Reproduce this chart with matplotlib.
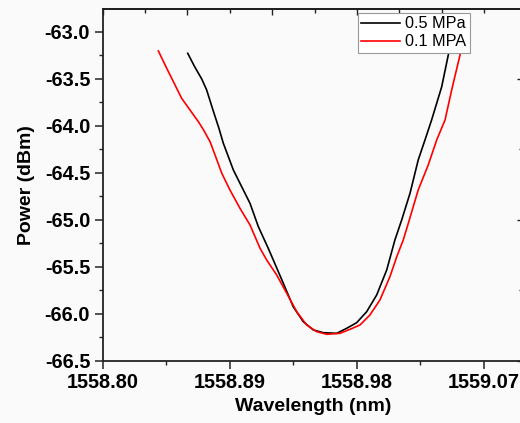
import numpy as np
import matplotlib
matplotlib.use("Agg")
import matplotlib.pyplot as plt
from matplotlib.ticker import MultipleLocator, FixedLocator, FormatStrFormatter

plt.rcParams['font.family'] = ['Liberation Sans', 'DejaVu Sans']
plt.rcParams['axes.unicode_minus'] = False

# Data
wl_05 = [1558.8602, 1558.8650, 1558.8701, 1558.8736, 1558.8780, 1558.8823, 1558.8854, 1558.8925, 1558.8984,
         1558.9043, 1558.9102, 1558.9172, 1558.9208, 1558.9279, 1558.9349, 1558.9420,
         1558.9491, 1558.9562, 1558.9657, 1558.9728, 1558.9798, 1558.9869, 1558.9940,
         1559.0011, 1559.0069, 1559.0117, 1559.0176, 1559.0234, 1559.0282, 1559.0329,
         1559.0400, 1559.0447, 1559.0480]
pw_05 = [-63.230, -63.370, -63.503, -63.620, -63.830, -64.028, -64.187, -64.471, -64.649,
         -64.826, -65.074, -65.304, -65.429, -65.677, -65.926, -66.085,
         -66.173, -66.202, -66.209, -66.155, -66.096, -65.979, -65.801,
         -65.535, -65.216, -65.003, -64.719, -64.365, -64.152, -63.939,
         -63.588, -63.248, -63.050]

wl_01 = [1558.8394, 1558.8453, 1558.8512, 1558.8559, 1558.8618, 1558.8677, 1558.8712,
         1558.8760, 1558.8800, 1558.8843, 1558.8901, 1558.8972, 1558.9043, 1558.9114,
         1558.9161, 1558.9232, 1558.9303, 1558.9374, 1558.9444, 1558.9515, 1558.9586,
         1558.9680, 1558.9751, 1558.9822, 1558.9892, 1558.9963, 1559.0034, 1559.0082,
         1559.0128, 1559.0164, 1559.0234, 1559.0305, 1559.0365, 1559.0424, 1559.0471,
         1559.0530, 1559.0560]
pw_01 = [-63.205, -63.389, -63.567, -63.709, -63.833, -63.957, -64.040,
         -64.170, -64.330, -64.506, -64.684, -64.879, -65.056, -65.304,
         -65.429, -65.588, -65.783, -65.979, -66.120, -66.191, -66.219,
         -66.209, -66.166, -66.120, -66.014, -65.854, -65.606, -65.394,
         -65.216, -65.038, -64.684, -64.418, -64.152, -63.939, -63.620,
         -63.248, -63.050]

labels = ['0.5 MPa', '0.1 MPA']
x_ticks = [1558.80, 1558.89, 1558.98, 1559.07]
y_ticks = [-66.5, -66.0, -65.5, -65.0, -64.5, -64.0, -63.5, -63.0]

W, H = 520, 423
fig = plt.figure(figsize=(W / 100, H / 100), dpi=100, facecolor='#fafafa')
left_px, right_px, bot_px, top_px = 102.7, 523.0, 360.7, 9.0
ax = fig.add_axes([left_px / W, 1 - bot_px / H, (right_px - left_px) / W, (bot_px - top_px) / H])
ax.set_facecolor('#fafafa')

ax.plot(wl_05, pw_05, color='black', lw=1.2, label=labels[0])
ax.plot(wl_01, pw_01, color='#ff0000', lw=1.2, label=labels[1])

ax.set_xlim(1558.80, 1559.0976)
ax.set_ylim(-66.5, -62.759)

ax.xaxis.set_major_locator(FixedLocator(x_ticks))
ax.xaxis.set_minor_locator(MultipleLocator(0.045))
ax.yaxis.set_major_locator(FixedLocator(y_ticks))
ax.yaxis.set_minor_locator(MultipleLocator(0.25))
ax.xaxis.set_major_formatter(FormatStrFormatter('%.2f'))
ax.yaxis.set_major_formatter(FormatStrFormatter('%.1f'))

for sp in ax.spines.values():
    sp.set_linewidth(1.3)
    sp.set_color('#222222')

ax.tick_params(axis='both', which='major', direction='out', length=5.5, width=1.1,
               labelsize=14.3, pad=3.5, colors='#222222')
ax.tick_params(axis='both', which='minor', direction='out', length=3.2, width=1.0, colors='#222222')
ax.tick_params(top=False, right=False, which='both')
for lab in ax.get_xticklabels() + ax.get_yticklabels():
    lab.set_fontweight('bold')
    lab.set_color('black')

# top and right axes with inward ticks
secx = ax.secondary_xaxis('top')
secx.xaxis.set_major_locator(MultipleLocator(0.06))
secx.xaxis.set_minor_locator(FixedLocator([1558.83, 1558.89, 1558.95, 1559.01, 1559.07]))
secx.tick_params(which='major', direction='in', length=4.3, width=1.0, labeltop=False, colors='#222222')
secx.tick_params(which='minor', direction='in', length=2.7, width=1.0, colors='#222222')
secx.spines['top'].set_linewidth(1.3)

secy = ax.secondary_yaxis('right')
secy.yaxis.set_major_locator(FixedLocator([-66.5, -65.0, -63.5]))
secy.yaxis.set_minor_locator(FixedLocator([-65.75, -64.25]))
secy.tick_params(which='major', direction='in', length=4.3, width=1.0, labelright=False, colors='#222222')
secy.tick_params(which='minor', direction='in', length=2.7, width=1.0, colors='#222222')

ax.set_xlabel('Wavelength (nm)', fontsize=14, fontweight='bold', labelpad=4)
ax.set_ylabel('Power (dBm)', fontsize=14, fontweight='bold', labelpad=7)

leg = ax.legend(loc='upper left', bbox_to_anchor=(358 / W, 1 - 13 / H),
                bbox_transform=fig.transFigure, fontsize=11.7, frameon=True,
                fancybox=False, framealpha=1.0, edgecolor='#999999',
                borderpad=0.2, handlelength=2.4, handletextpad=0.3,
                labelspacing=0.2, borderaxespad=0.0)
leg.get_frame().set_linewidth(0.8)
leg.get_frame().set_facecolor('white')

fig.savefig('out.png', dpi=100, facecolor=fig.get_facecolor())
